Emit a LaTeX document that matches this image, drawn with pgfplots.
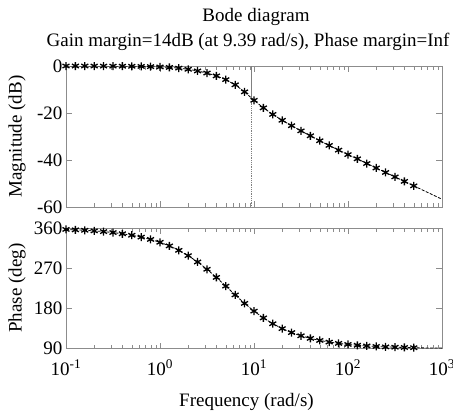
\documentclass[border=0pt]{standalone}
\usepackage{fontspec}
\setmainfont{Liberation Serif}
\usepackage{pgfplots}
\usepackage{pgfplotstable}
\pgfplotsset{compat=1.18}
\newcommand\ff{\fontsize{19}{22}\selectfont}

% w (rad/s), magnitude (dB), phase (deg)
\pgfplotstableread{
w mag ph
0.1 0.0 356.8
0.1259 0.0 355.9
0.1585 0.0 354.9
0.1995 -0.02 353.5
0.2512 -0.03 351.9
0.3162 -0.05 349.8
0.3981 -0.08 347.1
0.5012 -0.12 343.8
0.631 -0.18 339.6
0.7943 -0.27 334.4
1 -0.4 328.0
1.259 -0.6 319.9
1.585 -0.9 310.0
1.995 -1.4 298.1
2.512 -2.1 283.9
3.162 -3.0 267.5
3.981 -4.2 249.3
5.012 -5.8 229.8
6.31 -8.0 210.1
7.943 -11.0 191.1
10 -14.6 173.8
12.59 -17.8 158.5
15.85 -20.6 145.5
19.95 -23.1 134.6
25.12 -25.4 125.7
31.62 -27.6 118.5
39.81 -29.7 112.7
50.12 -31.8 108.1
63.1 -33.8 104.4
79.43 -35.8 101.5
100 -37.7 99.1
125.9 -39.5 97.2
158.5 -41.5 95.8
199.5 -43.4 94.6
251.2 -45.3 93.6
316.2 -47.2 92.9
398.1 -49.1 92.3
501.2 -51.0 91.8
631 -52.9 91.4
794.3 -54.8 91.1
1000 -56.7 90.9
}\bode

\begin{document}
\begin{tikzpicture}
\useasboundingbox (0,0) rectangle (453pt,-418pt);

\node[font=\ff] at (256pt,-17pt) {Bode diagram};
\node[font=\ff] at (248pt,-42pt) {Gain margin=14dB (at 9.39 rad/s), Phase margin=Inf};

\begin{axis}[
  scale only axis, width=376pt, height=141pt,
  anchor=north west, at={(66pt,-66pt)},
  xmode=log, xmin=0.1, xmax=1000,
  xtick={0.1,1,10,100,1000}, xticklabels={},
  ymin=-60, ymax=0, ytick={-60,-40,-20,0},
  yticklabels={-60,-40,-20,0},
  tick pos=both, tick align=inside,
  axis line style={black!45}, tick style={black!45},
  major tick length=6pt, minor tick length=3.5pt,
  tick label style={font=\ff, black},
  label style={font=\ff},
  ylabel={Magnitude (dB)},
  ylabel style={at={(axis description cs:-0.13,0.5)}, anchor=center},
]
\addplot[black, line width=0.8pt, dash pattern=on 3pt off 1.5pt] table[x=w, y=mag] {\bode};
\addplot[only marks, black, mark=asterisk, mark size=4pt, mark options={line width=1.3pt}, restrict x to domain=-2.31:6.25] table[x=w, y=mag] {\bode};
\addplot[black!50, line width=0.9pt] coordinates {(9.39,0) (9.39,-14)};
\addplot[black!50, line width=0.8pt, densely dotted] coordinates {(9.39,-14) (9.39,-60)};
\end{axis}

\begin{axis}[
  scale only axis, width=376pt, height=120.5pt,
  anchor=north west, at={(66pt,-228pt)},
  xmode=log, xmin=0.1, xmax=1000,
  xtick={0.1,1,10,100,1000},
  xticklabels={10\textsuperscript{-1},10\textsuperscript{0},10\textsuperscript{1},10\textsuperscript{2},10\textsuperscript{3}},
  xticklabel style={yshift=-8pt},
  ymin=90, ymax=360, ytick={90,180,270,360},
  yticklabels={90,180,270,360},
  tick pos=both, tick align=inside,
  axis line style={black!45}, tick style={black!45},
  major tick length=6pt, minor tick length=3.5pt,
  tick label style={font=\ff, black},
  label style={font=\ff},
  xlabel={Frequency (rad/s)},
  xlabel style={at={(axis description cs:0.48,-0.44)}, anchor=center},
  ylabel={Phase (deg)},
  ylabel style={at={(axis description cs:-0.13,0.5)}, anchor=center},
]
\addplot[black, line width=0.8pt, dash pattern=on 3pt off 1.5pt] table[x=w, y=ph] {\bode};
\addplot[only marks, black, mark=asterisk, mark size=4pt, mark options={line width=1.3pt}, restrict x to domain=-2.31:6.25] table[x=w, y=ph] {\bode};
\end{axis}
\end{tikzpicture}
\end{document}
